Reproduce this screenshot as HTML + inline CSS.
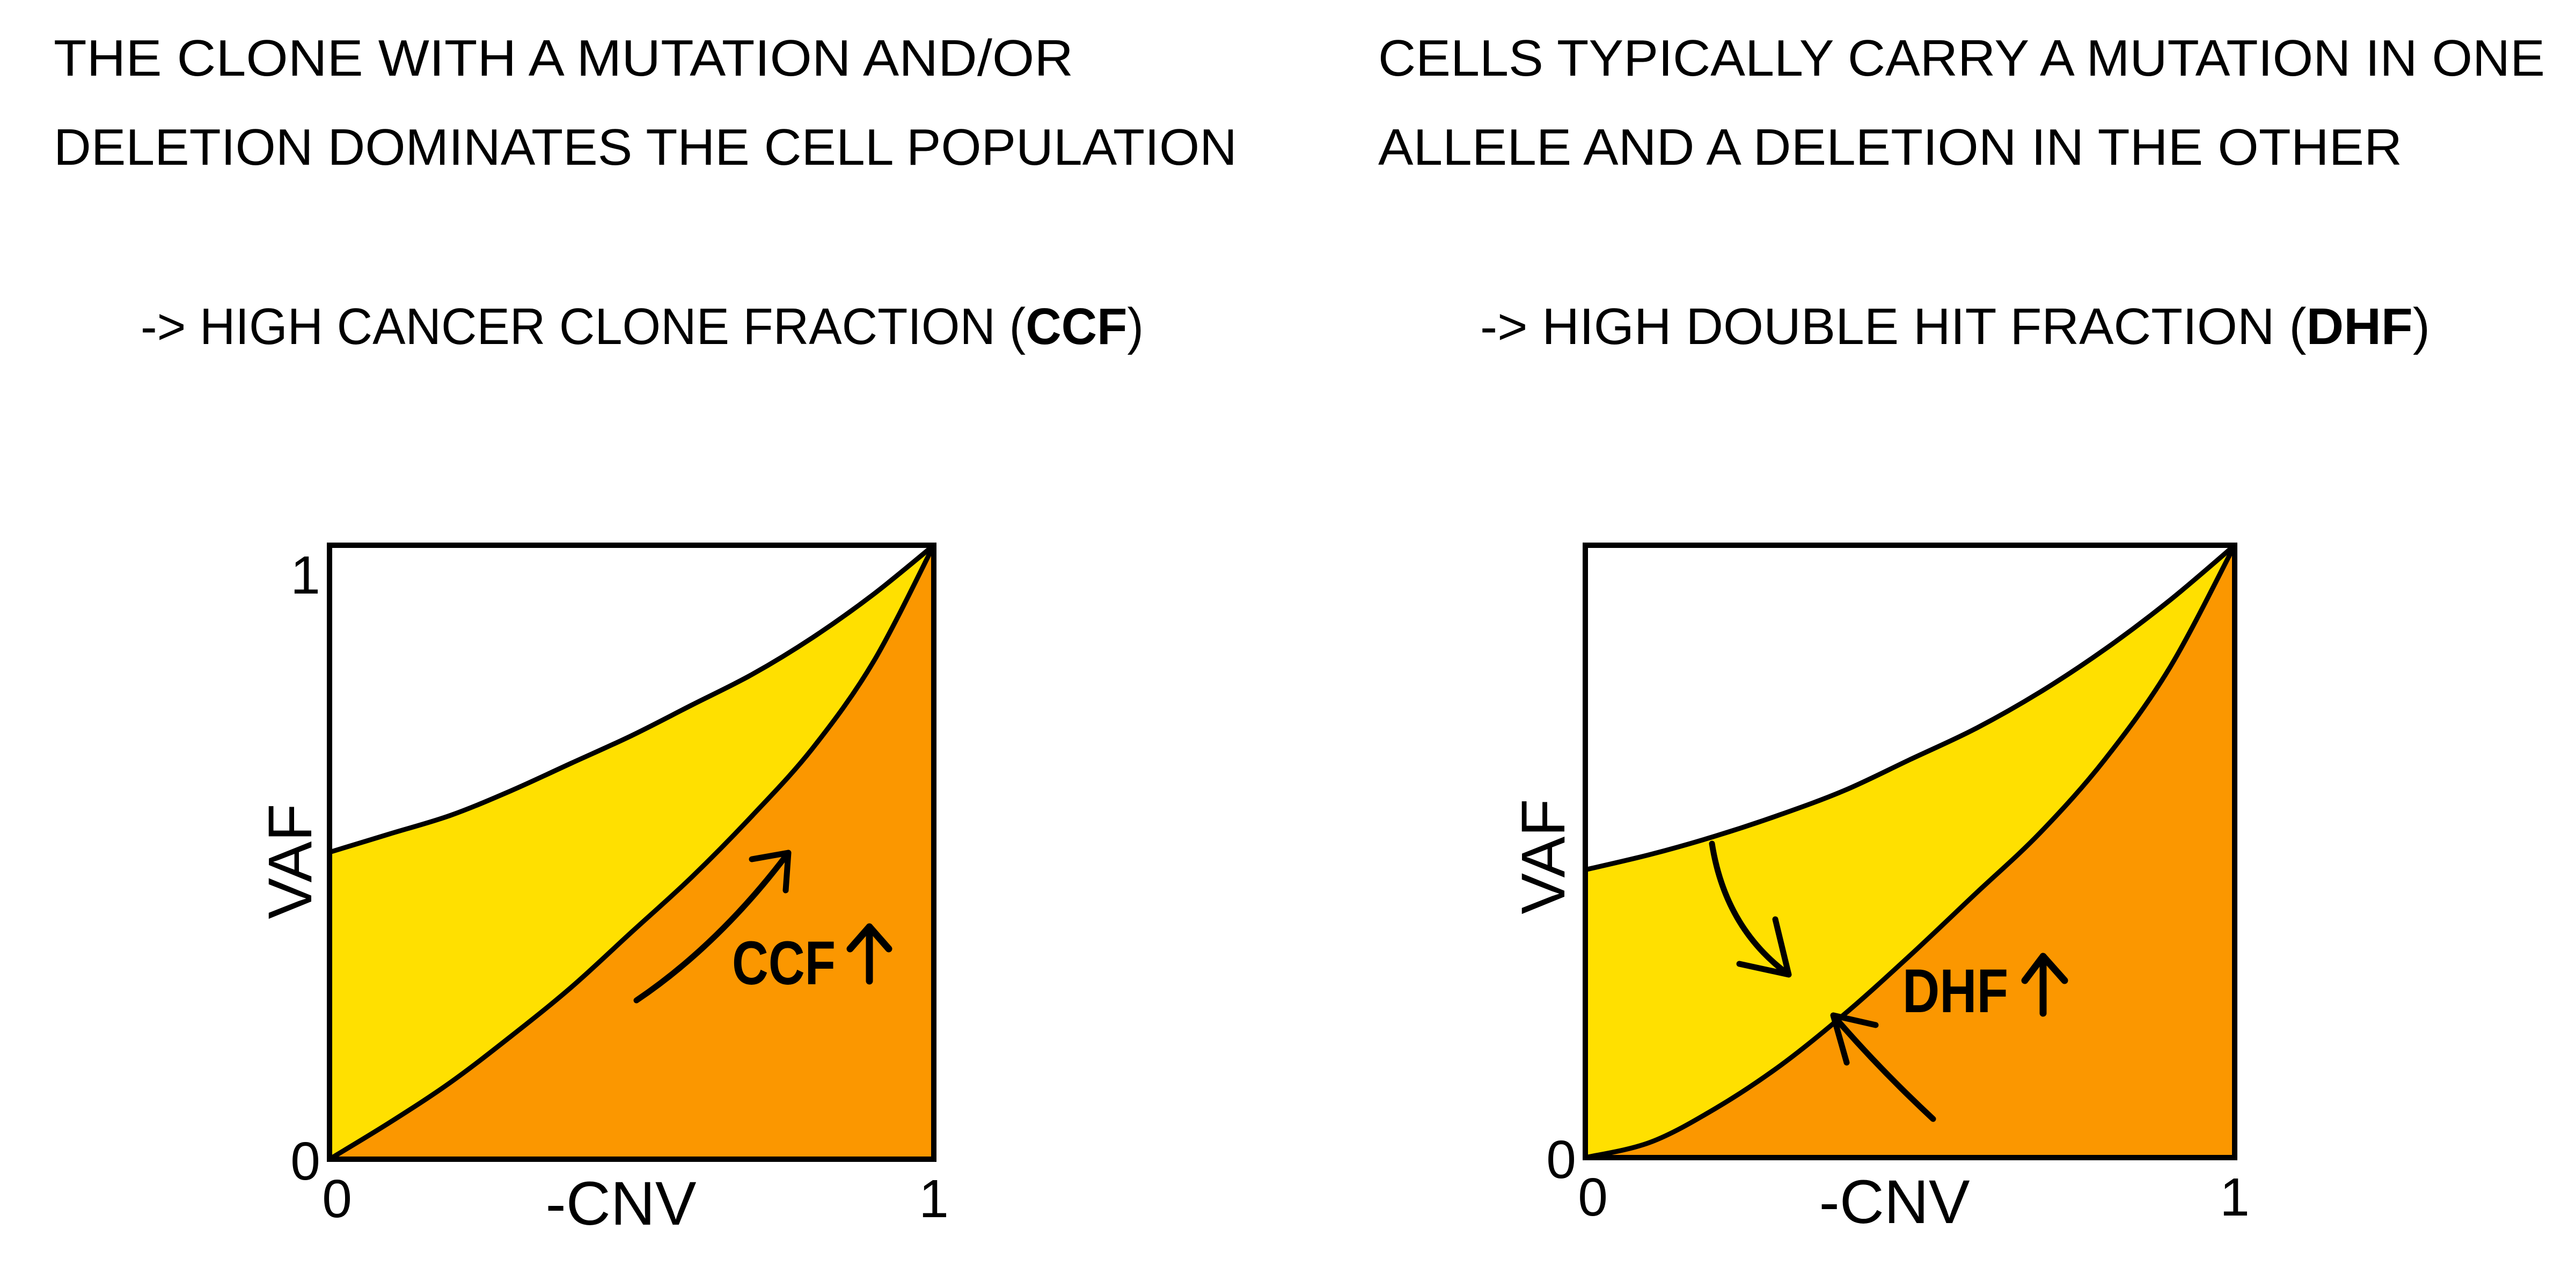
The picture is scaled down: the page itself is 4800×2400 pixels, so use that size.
<!DOCTYPE html>
<html><head><meta charset="utf-8"><style>
html,body{margin:0;padding:0;background:#fff}
svg{display:block}
text{font-family:"Liberation Sans",sans-serif;fill:#000}
</style></head><body>
<svg id="fig" width="4800" height="2400" viewBox="0 0 4800 2400" xmlns="http://www.w3.org/2000/svg">
<rect width="4800" height="2400" fill="#fff"/>
<g>
<text x="100" y="141" font-size="96" textLength="1900" lengthAdjust="spacingAndGlyphs">THE CLONE WITH A MUTATION AND/OR</text>
<text x="100" y="307" font-size="96" textLength="2205" lengthAdjust="spacingAndGlyphs">DELETION DOMINATES THE CELL POPULATION</text>
<text x="262" y="641" font-size="96" textLength="1869" lengthAdjust="spacingAndGlyphs">-&gt; HIGH CANCER CLONE FRACTION (<tspan font-weight="bold">CCF</tspan>)</text>
</g>
<g>
<text x="2568" y="141" font-size="96" textLength="2174" lengthAdjust="spacingAndGlyphs">CELLS TYPICALLY CARRY A MUTATION IN ONE</text>
<text x="2568" y="307" font-size="96" textLength="1908" lengthAdjust="spacingAndGlyphs">ALLELE AND A DELETION IN THE OTHER</text>
<text x="2758" y="641" font-size="96" textLength="1770" lengthAdjust="spacingAndGlyphs">-&gt; HIGH DOUBLE HIT FRACTION (<tspan font-weight="bold">DHF</tspan>)</text>
</g>
<g id="left"></g>
<g id="right"></g>
</svg>
<script>
// data: x positions (-CNV) and VAF curve values
const xs = [0, 0.1, 0.2, 0.3, 0.4, 0.5, 0.6, 0.7, 0.8, 0.9, 1];
const leftUpper = [0.50, 0.53, 0.56, 0.60, 0.645, 0.69, 0.74, 0.79, 0.85, 0.92, 1];
const leftLower = [0, 0.06, 0.125, 0.20, 0.28, 0.37, 0.46, 0.56, 0.67, 0.81, 1];
const rightUpper = [0.47, 0.495, 0.525, 0.56, 0.60, 0.65, 0.70, 0.76, 0.83, 0.91, 1];
const rightLower = [0, 0.025, 0.08, 0.15, 0.235, 0.33, 0.43, 0.53, 0.65, 0.80, 1];
const xTicks = ['0', '1'];
const yTicks = ['0', '1'];

const NS = 'http://www.w3.org/2000/svg';
function mk(tag, attrs, parent) {
  const e = document.createElementNS(NS, tag);
  for (const k in attrs) e.setAttribute(k, attrs[k]);
  parent.appendChild(e);
  return e;
}
function drawChart(g, box, upper, lower, showY1, label, labelPos, upArrow, arrows, axisPos) {
  const sx = v => box.x0 + v * (box.x1 - box.x0);
  const sy = v => box.y1 - v * (box.y1 - box.y0);
  function smooth(arr) {
    const p = arr.map((v, i) => [sx(xs[i]), sy(v)]);
    let d = 'M' + p[0][0] + ',' + p[0][1];
    for (let i = 0; i < p.length - 1; i++) {
      const p0 = p[Math.max(0, i - 1)], p1 = p[i], p2 = p[i + 1], p3 = p[Math.min(p.length - 1, i + 2)];
      const c1 = [p1[0] + (p2[0] - p0[0]) / 6, p1[1] + (p2[1] - p0[1]) / 6];
      const c2 = [p2[0] - (p3[0] - p1[0]) / 6, p2[1] - (p3[1] - p1[1]) / 6];
      d += ' C' + c1.join(',') + ' ' + c2.join(',') + ' ' + p2.join(',');
    }
    return d;
  }
  const up = smooth(upper), lo = smooth(lower);
  let el;
  el = mk('path', {d: up + ' L' + sx(1) + ',' + sy(0) + ' L' + sx(0) + ',' + sy(0) + ' Z', fill: '#FFE000'}, g);
  
  
  el = mk('path', {d: lo + ' L' + sx(1) + ',' + sy(0) + ' Z', fill: '#FB9700'}, g);
  
  
  el = mk('path', {d: up, fill: 'none', stroke: '#000', 'stroke-width': 9}, g);
  
  
  el = mk('path', {d: lo, fill: 'none', stroke: '#000', 'stroke-width': 9}, g);
  
  
  el = mk('rect', {x: sx(0), y: sy(1), width: sx(1) - sx(0), height: sy(0) - sy(1), fill: 'none', stroke: '#000', 'stroke-width': 10}, g);
  
  
  el = mk('text', {x: sx(0) + 14, y: sy(0) + 108, 'font-size': 100, 'text-anchor': 'middle'}, g);
  el.textContent = xTicks[0];
  
  
  el = mk('text', {x: sx(1), y: sy(0) + 108, 'font-size': 100, 'text-anchor': 'middle'}, g);
  el.textContent = xTicks[1];
  
  
  el = mk('text', {x: sx(0) - 45, y: sy(0) + 38, 'font-size': 100, 'text-anchor': 'middle'}, g);
  el.textContent = yTicks[0];
  
  
  if (showY1) {
    el = mk('text', {x: sx(0) - 45, y: sy(1) + 90, 'font-size': 100, 'text-anchor': 'middle'}, g);
    el.textContent = yTicks[1];
    
    
  }
  el = mk('text', {x: axisPos.xl, y: sy(0) + 122, 'font-size': 115, 'text-anchor': 'middle'}, g);
  el.textContent = '-CNV';
  
  
  el = mk('text', {x: 0, y: 0, 'font-size': 115, 'text-anchor': 'middle', transform: 'translate(' + axisPos.yx + ',' + axisPos.yy + ') rotate(-90)'}, g);
  el.textContent = 'VAF';
  
  
  el = mk('text', {x: labelPos[0], y: labelPos[1], 'font-size': 115, 'font-weight': 'bold', textLength: labelPos[2], lengthAdjust: 'spacingAndGlyphs'}, g);
  el.textContent = label;
  
  
  el = mk('path', {d: upArrow, fill: 'none', stroke: '#000', 'stroke-width': 13, 'stroke-linecap': 'round', 'stroke-linejoin': 'round'}, g);
  
  
  arrows.forEach((a, i) => {
    el = mk('path', {d: a, fill: 'none', stroke: '#000', 'stroke-width': 11, 'stroke-linecap': 'round', 'stroke-linejoin': 'round'}, g);
    
    
  });
}
drawChart(document.getElementById('left'), {x0: 614, x1: 1740, y0: 1016, y1: 2160}, leftUpper, leftLower, true, 'CCF', [1364, 1834, 193],
  'M1620,1828 L1620,1727 M1584,1768 L1620,1727 L1656,1768',
  ['M1186,1864 Q1340,1760 1469,1589 M1401,1601 L1469,1589 L1464,1659'], {xl: 1157, yx: 580, yy: 1605});
drawChart(document.getElementById('right'), {x0: 2954, x1: 4164, y0: 1016, y1: 2157}, rightUpper, rightLower, false, 'DHF', [3545, 1886, 197],
  'M3807,1888 L3807,1782 M3773,1827 L3807,1782 L3847,1827',
  ['M3190,1572 Q3215,1730 3333,1816 M3308,1713 L3333,1816 L3241,1796',
   'M3602,2085 Q3500,1990 3416,1892 M3495,1910 L3416,1892 L3441,1980'], {xl: 3530, yx: 2915, yy: 1596});
</script>
</body></html>
